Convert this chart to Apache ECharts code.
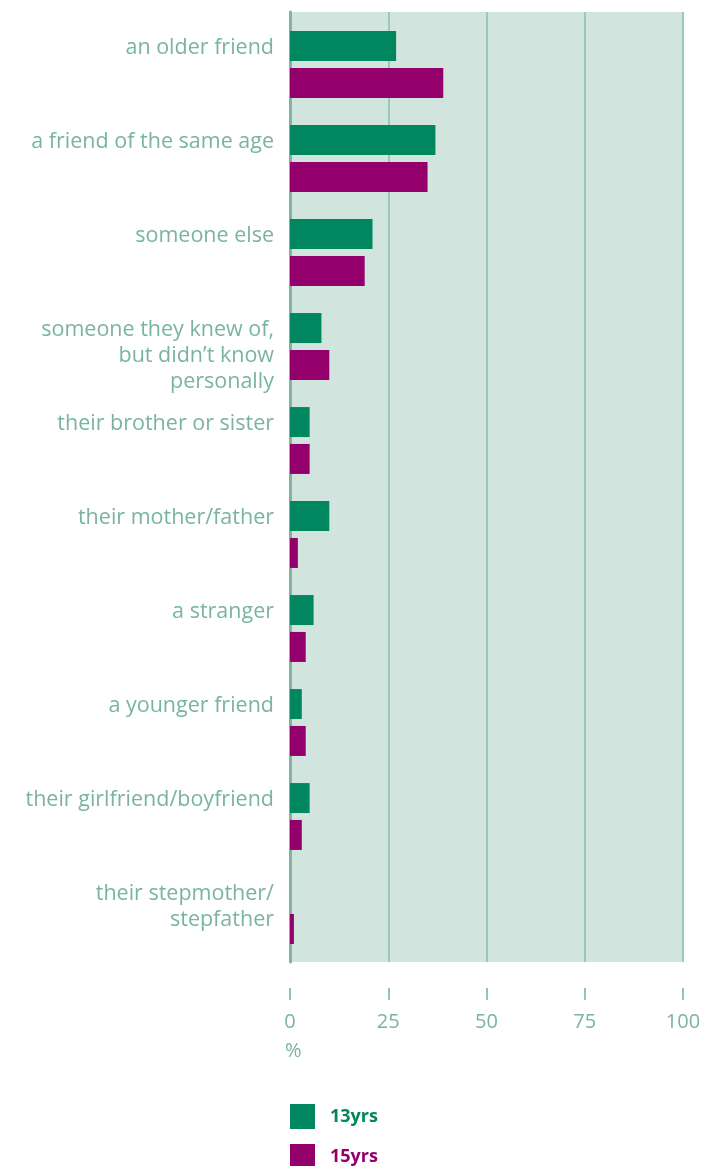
<!DOCTYPE html>
<html>
<head>
<meta charset="utf-8">
<script src="https://cdn.jsdelivr.net/npm/echarts@6/dist/echarts.min.js"></script>
<style>
  html, body { margin: 0; padding: 0; background: #ffffff; }
  #chart { width: 705px; height: 1166px; }
</style>
</head>
<body>
<div id="chart"></div>
<script>
// Who the young people talked to (percent), by age group
const categories = [
  'an older friend',
  'a friend of the same age',
  'someone else',
  'someone they knew of,\nbut didn\u2019t know\npersonally',
  'their brother or sister',
  'their mother/father',
  'a stranger',
  'a younger friend',
  'their girlfriend/boyfriend',
  'their stepmother/\nstepfather'
];
const seriesNames = ['13yrs', '15yrs'];
const yrs13 = [27, 37, 21, 8, 5, 10, 6, 3, 5, 0];
const yrs15 = [39, 35, 19, 10, 5, 2, 4, 4, 3, 1];
const axisTicks = [0, 25, 50, 75, 100];
const axisUnit = '%';

const GREEN = '#00875f';
const PURPLE = '#93006b';
const LABEL = '#79b59e';
const FONT = '"Open Sans", "Noto Sans", sans-serif';

const chart = echarts.init(document.getElementById('chart'), null, { renderer: 'canvas' });

const tickMin = axisTicks[0];
const tickMax = axisTicks[axisTicks.length - 1];
const tickStep = axisTicks[1] - axisTicks[0];

// one legend block per age group, stacked
function legendBlock(name, color, top) {
  return {
    orient: 'vertical',
    left: 290,
    top: top,
    padding: 0,
    itemWidth: 25,
    itemHeight: 25,
    icon: 'rect',
    selectedMode: false,
    data: [{ name: name, textStyle: { color: color } }],
    textStyle: { fontSize: 18, fontWeight: 'bold', fontFamily: FONT, padding: [0, 0, 0, 10] }
  };
}

chart.setOption({
  animation: false,
  backgroundColor: '#ffffff',
  title: {
    text: axisUnit,
    left: 280,
    top: 1036,
    textStyle: { color: LABEL, fontSize: 20, fontWeight: 'normal', fontFamily: FONT }
  },
  legend: [
    legendBlock(seriesNames[0], GREEN, 1104),
    legendBlock(seriesNames[1], PURPLE, 1144)
  ],
  grid: [
    // shaded panel, gridlines and the percent scale
    { left: 290, width: 393, top: 12, height: 950, show: true, backgroundColor: '#d2e4de', borderWidth: 0 },
    // bars
    { left: 290, width: 393, top: 17.5, height: 940 }
  ],
  xAxis: [
    {
      gridIndex: 0, type: 'value', min: tickMin, max: tickMax, interval: tickStep,
      offset: 26,
      axisLine: { show: false },
      axisTick: { show: true, length: 12, lineStyle: { color: '#93c5b3', width: 2 } },
      axisLabel: { color: LABEL, fontSize: 20, fontFamily: FONT, margin: 24 },
      splitLine: { show: true, lineStyle: { color: '#9cc8b7', width: 2 } }
    },
    {
      gridIndex: 1, type: 'value', min: tickMin, max: tickMax, show: false
    }
  ],
  yAxis: [
    {
      gridIndex: 0, type: 'category', data: categories, inverse: true,
      axisLine: { show: true, lineStyle: { color: '#80b5a1', width: 3 } },
      axisTick: { show: false },
      axisLabel: { show: false },
      splitLine: { show: false }
    },
    {
      gridIndex: 1, type: 'category', data: categories, inverse: true, show: false
    }
  ],
  series: [
    {
      name: seriesNames[0], type: 'bar', xAxisIndex: 1, yAxisIndex: 1,
      data: yrs13, barWidth: 30, barGap: '23%',
      itemStyle: { color: GREEN },
      label: {
        show: true, position: 'left', distance: 16,
        formatter: '{b}',
        color: LABEL, fontSize: 21.5, fontFamily: FONT,
        lineHeight: 26, align: 'right', verticalAlign: 'top', offset: [0, -11]
      }
    },
    {
      name: seriesNames[1], type: 'bar', xAxisIndex: 1, yAxisIndex: 1,
      data: yrs15, barWidth: 30, barGap: '23%',
      itemStyle: { color: PURPLE }
    }
  ]
});
</script>
</body>
</html>
